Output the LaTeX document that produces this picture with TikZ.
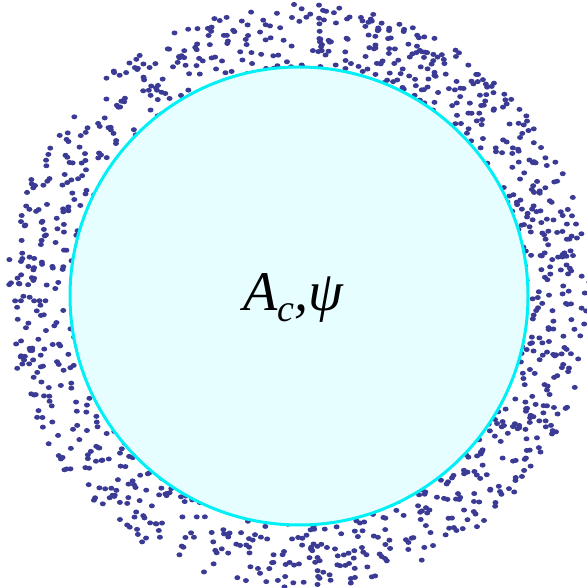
\documentclass[tikz,border=0pt]{standalone}
\usepackage{fontspec}
\newfontfamily\serf{Liberation Serif}
\definecolor{dotc}{HTML}{3B3B96}
\definecolor{ringc}{HTML}{00F0F5}
\definecolor{fillc}{HTML}{E6FEFF}
\tikzset{dotstyle/.style={fill=dotc}}
\begin{document}
\begin{tikzpicture}[x=1pt,y=1pt]
\useasboundingbox (0,0) rectangle (586,588);
\pgfmathsetseed{4242}
\foreach \i in {1,...,1050}{
  \pgfmathsetmacro{\ang}{360*rnd}
  \pgfmathsetmacro{\rr}{10*sqrt(22.6*22.6+rnd*(29.2*29.2-22.6*22.6))}
  \fill[dotstyle] (299,292) ++(\ang:\rr) ellipse (3.0 and 2.5);
}
\node[circle, draw=ringc, line width=3pt, fill=fillc, minimum size=458pt, inner sep=0pt] (c) at (299,292) {};
\node (t) at (293,290) {\fontsize{56}{56}\selectfont\serf\itshape A\raisebox{-0.2em}{\fontsize{38}{38}\selectfont c},ψ};
\end{tikzpicture}
\end{document}
